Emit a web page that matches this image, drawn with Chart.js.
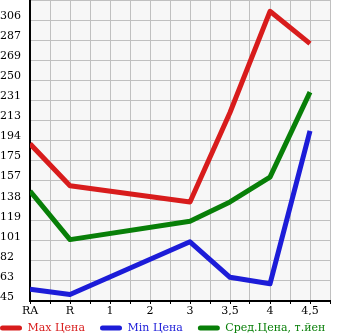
<!DOCTYPE html>
<html>
<head>
<meta charset="utf-8">
<script src="https://cdn.jsdelivr.net/npm/chart.js@4/dist/chart.umd.min.js"></script>
<style>
    html, body { margin: 0; padding: 0; background: #fff; }
    #wrap { width: 345px; height: 335px; }
</style>
</head>
<body>
<div id="wrap"><canvas id="priceChart" width="345" height="335"></canvas></div>
<script>
// Categories along the bottom
const categories = ['RA', 'R', '1', '2', '3', '3,5', '4', '4,5'];

// Series values, null where the series has no point
const maxPrice = [191, 152, null, null, 137, 220, 314, 284];
const minPrice = [56, 51, null, null, 100, 67, 61, 203];
const avgPrice = [147, 102, null, null, 119, 137, 160, 239];

// Y tick labels, bottom to top
const yTickLabels = ['45', '63', '82', '101', '119', '138', '157', '175', '194', '213', '231', '250', '269', '287', '306', ''];
const yMin = 45;
const yMax = 324.5;

const fontFamily = "'DejaVu Serif', serif";
const legendPad = 15;

function toPoints(values) {
    return values.map((v, i) => ({ x: i, y: v }));
}

// Light grey fill behind the plot
const plotBackground = {
    id: 'plotBackground',
    beforeDraw(chart) {
        const a = chart.chartArea;
        const ctx = chart.ctx;
        ctx.save();
        ctx.fillStyle = '#f7f7f7';
        ctx.fillRect(a.left, a.top, a.right - a.left, a.bottom - a.top);
        ctx.restore();
    }
};

// Legend sits flush left and low, like the original
const legendNudge = {
    id: 'legendNudge',
    afterLayout(chart) {
        const lg = chart.legend;
        if (!lg) return;
        lg.left = -legendPad;
        lg.right = chart.width + legendPad;
        lg.width = lg.right - lg.left;
        lg.top = chart.height - 7 - 5.5 - legendPad;
    }
};

const ctx = document.getElementById('priceChart').getContext('2d');
const step = (yMax - yMin) / (yTickLabels.length - 1);

new Chart(ctx, {
    type: 'line',
    data: {
        datasets: [
            { label: 'Max Цена', data: toPoints(maxPrice), borderColor: '#d81c1c', backgroundColor: '#d81c1c' },
            { label: 'Min Цена', data: toPoints(minPrice), borderColor: '#1c1cd8', backgroundColor: '#1c1cd8' },
            { label: 'Сред.Цена, т.йен', data: toPoints(avgPrice), borderColor: '#087f08', backgroundColor: '#087f08' }
        ].map(ds => Object.assign(ds, {
            borderWidth: 5,
            pointRadius: 0,
            tension: 0,
            spanGaps: true,
            fill: false,
            borderJoinStyle: 'round'
        }))
    },
    options: {
        responsive: false,
        animation: false,
        layout: { padding: { left: 0, right: 15, top: 0, bottom: 0 } },
        plugins: {
            tooltip: { enabled: false },
            legend: {
                position: 'bottom',
                align: 'start',
                maxHeight: 20,
                labels: {
                    boxWidth: 22,
                    boxHeight: 5,
                    useBorderRadius: true,
                    borderRadius: 2.5,
                    padding: legendPad,
                    font: { family: fontFamily, size: 11 },
                    generateLabels(chart) {
                        return chart.data.datasets.map((ds, i) => ({
                            text: ds.label,
                            fillStyle: ds.borderColor,
                            strokeStyle: ds.borderColor,
                            lineWidth: 0,
                            fontColor: ds.borderColor,
                            datasetIndex: i,
                            borderRadius: 2.5
                        }));
                    }
                }
            }
        },
        scales: {
            x: {
                type: 'linear',
                min: 0,
                max: 7.5,
                afterBuildTicks(scale) {
                    const ticks = [];
                    for (let v = 0; v <= 7.5; v += 0.5) ticks.push({ value: v });
                    scale.ticks = ticks;
                },
                afterFit(scale) {
                    scale.height = 14;
                    scale.paddingLeft = 0;
                    scale.paddingRight = 0;
                },
                ticks: {
                    autoSkip: false,
                    maxRotation: 0,
                    padding: 1,
                    color: '#000',
                    font: { family: fontFamily, size: 11 },
                    callback(value) {
                        return Number.isInteger(value) ? categories[value] : '';
                    }
                },
                grid: { color: '#c0c0c0', lineWidth: 1, tickLength: 3, tickColor: '#000' },
                border: { color: '#000', width: 2 }
            },
            y: {
                min: yMin,
                max: yMax,
                afterBuildTicks(scale) {
                    scale.ticks = yTickLabels.map((t, i) => ({ value: yMin + i * step }));
                },
                afterFit(scale) {
                    scale.width = 30;
                    scale.paddingTop = 0;
                    scale.paddingBottom = 0;
                },
                ticks: {
                    crossAlign: 'far',
                    labelOffset: -4,
                    padding: 0,
                    color: '#000',
                    font: { family: fontFamily, size: 11 },
                    callback(value, index) {
                        return yTickLabels[index];
                    }
                },
                grid: { color: '#c0c0c0', lineWidth: 1, drawTicks: false },
                border: { color: '#000', width: 2 }
            }
        }
    },
    plugins: [plotBackground, legendNudge]
});
</script>
</body>
</html>
